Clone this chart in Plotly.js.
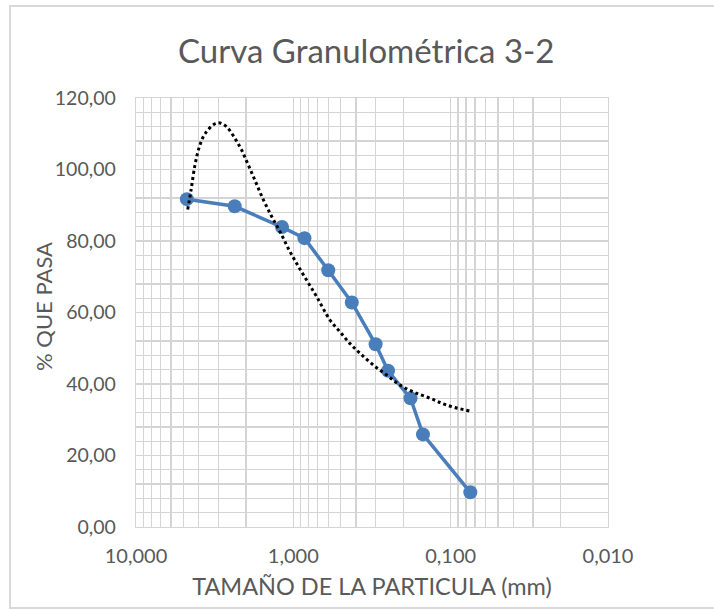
<!DOCTYPE html>
<html>
<head>
<meta charset="utf-8">
<script src="https://cdn.plot.ly/plotly-3.0.1.min.js"></script>
<style>
  html, body { margin: 0; padding: 0; background: #ffffff; }
  #wrap { position: relative; width: 714px; height: 609px; overflow: hidden; }
  #chart { position: absolute; left: 0; top: 0; width: 714px; height: 609px; }
  #frame { position: absolute; left: 9px; top: 5px; width: 720px; height: 600px;
           border-left: 2px solid #d9d9d9; border-top: 2px solid #d9d9d9; border-bottom: 2px solid #d9d9d9;
           pointer-events: none; }
</style>
</head>
<body>
<div id="wrap">
  <div id="chart"></div>
  <div id="frame"></div>
</div>
<script>
// Sieve openings (mm) and percent passing
const sieveSize = [4.75, 2.36, 1.18, 0.85, 0.60, 0.425, 0.30, 0.25, 0.18, 0.15, 0.075];
const percentPassing = [91.7, 89.7, 83.9, 80.8, 71.8, 62.8, 51.1, 43.7, 36.0, 25.9, 9.7];

// Trendline (dotted)
const trendSize = [4.69, 4.47, 4.22, 3.96, 3.64, 3.15, 2.92, 2.65, 2.35, 2.13, 1.93, 1.75, 1.55, 1.37, 1.215, 1.076, 0.952, 0.822, 0.710, 0.585, 0.505, 0.436, 0.377, 0.310, 0.255, 0.210, 0.173, 0.135, 0.106, 0.0753];
const trendValue = [88.8, 94.2, 101.2, 106.3, 110.0, 112.8, 113.0, 111.9, 108.7, 105.4, 101.2, 96.9, 91.5, 86.8, 82.6, 77.9, 73.7, 69.0, 64.4, 57.9, 54.6, 51.3, 48.6, 45.3, 42.5, 39.7, 37.8, 36.0, 34.1, 32.4];

// Tick labels
const xTickVals = [10, 1, 0.1, 0.01];
const xTickText = ["10,000", "1,000", "0,100", "0,010"];
const yTickVals = [0, 20, 40, 60, 80, 100, 120];
const yTickText = ["0,00", "20,00", "40,00", "60,00", "80,00", "100,00", "120,00"];
const yTitle = "% QUE PASA";

// minor log gridlines 2..9 per decade
const xMinor = [];
[0.01, 0.1, 1].forEach(d => { for (let k = 2; k <= 9; k++) xMinor.push(+(k * d).toPrecision(3)); });

const FONT = "Lato, 'Open Sans', sans-serif";
const TXT = "#595959";
const GRID = "#d4d4d4";

const traces = [
  {
    x: sieveSize, y: percentPassing, type: "scatter", mode: "lines+markers",
    line: { color: "#4a7ebb", width: 3.5 },
    marker: { color: "#4a7ebb", size: 14 },
    showlegend: false, hoverinfo: "x+y"
  },
  {
    x: trendSize, y: trendValue, type: "scatter", mode: "lines",
    line: { color: "#000000", width: 3, dash: "dot", shape: "spline" },
    showlegend: false, hoverinfo: "skip"
  }
];

const layout = {
  width: 714, height: 609,
  margin: { l: 136, r: 106, t: 98, b: 82 },
  paper_bgcolor: "rgba(0,0,0,0)", plot_bgcolor: "#ffffff",
  font: { family: FONT, color: TXT },
  title: {
    text: "Curva Granulométrica 3-2",
    font: { family: FONT, size: 33, color: TXT },
    x: 0.513, xref: "container", xanchor: "center",
    y: 1 - 51 / 609, yref: "container", yanchor: "middle"
  },
  xaxis: {
    type: "log", autorange: false, range: [1, -2],
    tickmode: "array", tickvals: xTickVals, ticktext: xTickText,
    tickfont: { family: FONT, size: 20, color: TXT },
    ticks: "", ticklabelstandoff: 11,
    showgrid: true, gridcolor: GRID, gridwidth: 1.3,
    minor: { tickmode: "array", tickvals: xMinor, showgrid: true, gridcolor: GRID, gridwidth: 1.3, ticks: "" },
    showline: true, linecolor: GRID, linewidth: 1.3, mirror: true,
    zeroline: false,
    title: { text: "TAMAÑO DE LA PARTICULA (mm)", font: { family: FONT, size: 23.5, color: TXT }, standoff: 12 }
  },
  yaxis: {
    autorange: false, range: [0, 120],
    tickmode: "array", tickvals: yTickVals, ticktext: yTickText,
    tickfont: { family: FONT, size: 19.5, color: TXT },
    ticks: "", ticklabelstandoff: 15,
    showgrid: true, gridcolor: GRID, gridwidth: 1.3,
    minor: { dtick: 4, showgrid: true, gridcolor: GRID, gridwidth: 1.3, ticks: "" },
    showline: true, linecolor: GRID, linewidth: 1.3, mirror: true,
    zeroline: false
  },
  annotations: [{
    text: yTitle, textangle: -90, showarrow: false,
    xref: "paper", yref: "paper", x: (43 - 136) / 472, y: (527 - 307) / 429,
    xanchor: "center", yanchor: "middle",
    font: { family: FONT, size: 22, color: TXT }
  }]
};

Plotly.newPlot("chart", traces, layout, { displayModeBar: false, staticPlot: true });
</script>
</body>
</html>
